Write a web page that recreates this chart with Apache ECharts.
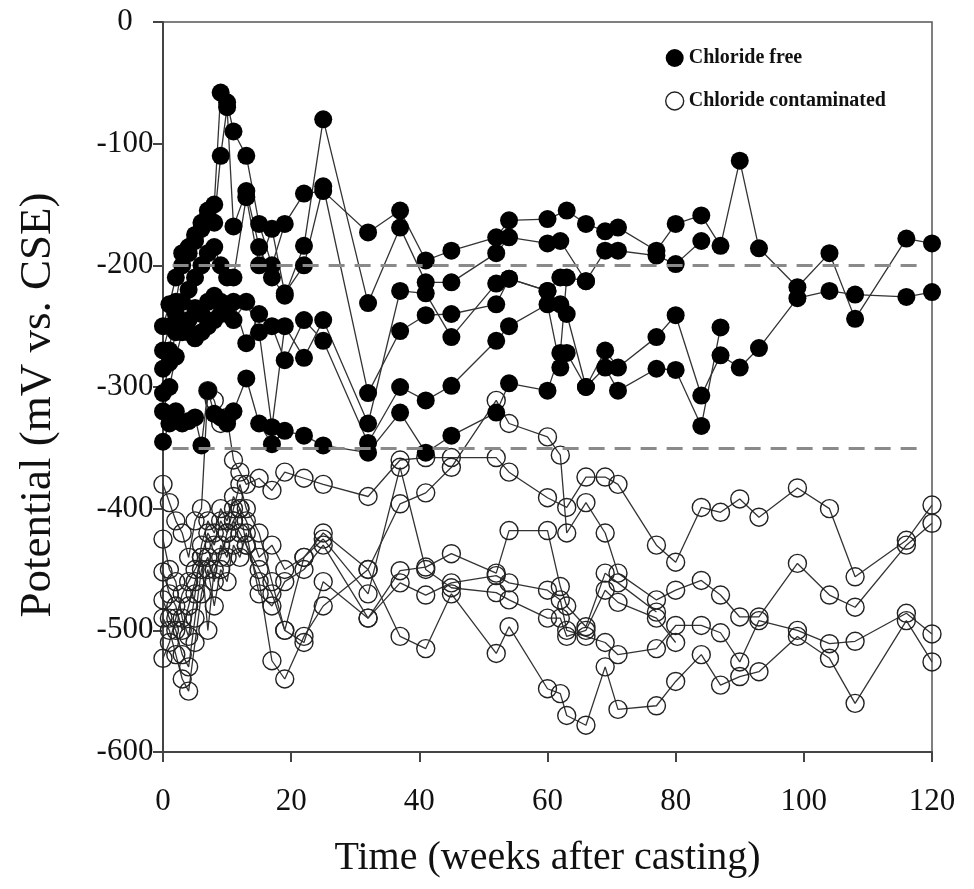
<!DOCTYPE html>
<html>
<head>
<meta charset="utf-8">
<script src="https://cdn.jsdelivr.net/npm/echarts@6/dist/echarts.min.js"></script>
<style>
html,body{margin:0;padding:0;background:#fff;}
#chart{width:974px;height:889px;}
</style>
</head>
<body>
<div id="chart"></div>
<script>
// ---- data ----
var weeksFree = [0,1,2,3,4,5,6,7,8,9,10,11,13,15,17,19,22,25,32,37,41,45,52,54,60,62,63,66,69,71,77,80,84,87,90,93,99,104,108,116,120];
var freeA = [-250,-232,-210,-190,-185,-175,-165,-155,-150,-58,-66,-90,-110,-166,-200,-166,-141,-139,-173,-155,-196,-188,-177,-163,-162,null,-155,-166,-172,-169,-188,-166,-159,-184,-114,-186,-218,-190,-244,-178,-182];
var freeB = [-285,-270,-230,-200,-190,-180,-170,-160,-165,-110,-70,-168,-139,-185,-210,-225,-184,-80,-231,-169,-214,-214,-190,-177,-182,-180,null,-213,-188,-188,-192,-199,-180,null,null,null,null,null,null,null,null];
var freeC = [-305,-280,-255,-230,-220,-210,-200,-190,-185,-200,-210,-210,-144,-200,-170,-223,-200,-135,-305,-254,-241,-240,-232,-211,-221,-232,-240,-300,-270,-284,-259,-241,-307,-274,-284,-268,-227,-221,-224,-226,-222];
var freeD = [-320,-300,-275,-255,-245,-235,-240,-230,-225,-230,-235,-230,-264,-240,-250,-278,-245,-262,-346,-300,-311,-299,-262,-250,-232,-284,-272,-300,-284,-303,-285,-286,-332,-251,null,null,null,null,null,null,null];
var freeE = [-345,-330,-320,-330,-328,-325,-348,-303,-322,-325,-330,-320,-293,-330,-347,-336,-340,-348,-354,-321,-354,-340,-321,-297,-303,-272,-210,-213,null,null,null,null,null,null,null,null,null,null,null,null,null];
var freeF = [-270,-250,-240,-250,-255,-260,-255,-250,-245,-240,-240,-245,-230,-255,-333,-250,-276,-245,-330,-221,-223,-259,-215,-211,-221,-210,null,null,null,null,null,null,null,null,null,null,null,null,null,null,null];

var weeksCont = [0,1,2,3,4,5,6,7,8,9,10,11,12,13,15,17,19,22,25,32,37,41,45,52,54,60,62,63,66,69,71,77,80,84,87,90,93,99,104,108,116,120];
var contA = [-380,-395,-410,-420,-440,-410,-400,-303,-311,-330,-325,-360,-370,-380,-375,-385,-370,-375,-380,-390,-360,-358,-358,-358,-370,-391,null,-399,-374,-374,-380,-430,-444,-399,-403,-392,-407,-383,-400,-456,-426,-397];
var contB = [-425,-450,-460,-490,-505,-470,-430,-410,-420,-400,-410,-390,-400,-410,-440,-430,-450,-440,-420,-450,-396,-387,-366,-311,-330,-341,-356,-420,-395,-420,-453,-475,-467,-459,-471,-489,-489,-445,-471,-481,-430,-412];
var contC = [-452,-470,-480,-500,-480,-460,-440,-420,-430,-410,-420,-400,-380,-400,-420,-460,-500,-510,-460,-490,-461,-471,-461,-455,-461,-467,-475,-500,-505,-510,-520,-515,-496,-496,-502,-526,-492,-500,-511,-509,-486,-503];
var contD = [-475,-490,-500,-520,-530,-490,-450,-440,-460,-430,-440,-410,-420,-430,-460,-525,-540,-505,-480,-450,-505,-515,-470,-519,-497,-548,-552,-570,-578,-530,-565,-562,-542,-520,-545,-538,-534,-505,-523,-560,-492,-526];
var contE = [-490,-500,-520,-540,-550,-510,-470,-450,-480,-450,-460,-430,-440,-420,-470,-480,-460,-450,-430,-490,-451,-448,-437,-453,-418,-418,-464,-480,-497,-453,-461,-485,null,null,null,null,null,null,null,null,null,null];
var contF = [-523,-510,-490,-470,-460,-450,-440,-500,-450,-440,-420,-410,-400,-430,-450,-470,-500,-440,-425,-470,-366,-450,-465,-469,-475,-490,-490,-505,-500,-467,-477,-490,-510,null,null,null,null,null,null,null,null,null];

var thresholds = [-200, -350];
var xTicks = {min: 0, max: 120, interval: 20};
var yTicks = {min: -600, max: 0, interval: 100};

// ---- build ----
function pairs(weeks, vals) {
  var out = [];
  for (var i = 0; i < weeks.length; i++) {
    if (vals[i] !== null && vals[i] !== undefined) out.push([weeks[i], vals[i]]);
  }
  return out;
}
var FONT = 'Liberation Serif, Times New Roman, serif';
var series = [];
var contSets = [contA, contB, contC, contD, contE, contF];
contSets.forEach(function (v) {
  series.push({
    name: 'Chloride contaminated', type: 'line', data: pairs(weeksCont, v),
    symbol: 'circle', symbolSize: 18, z: 2,
    itemStyle: {color: 'rgba(255,255,255,0)', borderColor: '#222', borderWidth: 1.4},
    lineStyle: {color: '#333', width: 1.3}
  });
});
var freeSets = [freeA, freeB, freeC, freeD, freeE, freeF];
freeSets.forEach(function (v) {
  series.push({
    name: 'Chloride free', type: 'line', data: pairs(weeksFree, v),
    symbol: 'circle', symbolSize: 18, z: 3,
    itemStyle: {color: '#000', borderColor: '#000', borderWidth: 0},
    lineStyle: {color: '#333', width: 1.3}
  });
});
series[0].markLine = {
  silent: true, symbol: ['none', 'none'], label: {show: false},
  lineStyle: {color: '#8a8a8a', width: 3, type: [16, 10]},
  data: thresholds.map(function (t) { return [{coord: [1.5, t]}, {coord: [118, t]}]; })
};

var chart = echarts.init(document.getElementById('chart'), null, {renderer: 'canvas'});
chart.setOption({
  animation: false,
  backgroundColor: '#fff',
  grid: {left: 163, right: 42, top: 22, bottom: 137, show: true, borderColor: '#555', borderWidth: 1.5},
  legend: {
    orient: 'vertical', left: 660, top: 43, itemWidth: 18, itemHeight: 18, itemGap: 23,
    textStyle: {fontFamily: FONT, fontWeight: 'bold', fontSize: 20, color: '#111'},
    data: [
      {name: 'Chloride free', icon: 'circle', itemStyle: {color: '#000', borderWidth: 0}},
      {name: 'Chloride contaminated', icon: 'circle', itemStyle: {color: '#fff', borderColor: '#222', borderWidth: 1.4}}
    ]
  },
  xAxis: {
    type: 'value', min: xTicks.min, max: xTicks.max, interval: xTicks.interval,
    name: 'Time (weeks after casting)', nameLocation: 'middle', nameGap: 86,
    nameTextStyle: {fontFamily: FONT, fontSize: 40, color: '#111'},
    axisLine: {onZero: false, lineStyle: {color: '#444', width: 2}},
    axisTick: {show: true, inside: false, length: 10, lineStyle: {color: '#444', width: 2}},
    axisLabel: {fontFamily: FONT, fontSize: 31, color: '#111', margin: 34},
    splitLine: {show: false}
  },
  yAxis: {
    type: 'value', min: yTicks.min, max: yTicks.max, interval: yTicks.interval,
    name: 'Potential (mV vs. CSE)', nameLocation: 'middle', nameGap: 102,
    nameTextStyle: {fontFamily: FONT, fontSize: 45, color: '#111', padding: [0, 36, 0, 0]},
    axisLine: {onZero: false, lineStyle: {color: '#444', width: 2}},
    axisTick: {show: true, inside: false, length: 10, lineStyle: {color: '#444', width: 2}},
    axisLabel: {fontFamily: FONT, fontSize: 31, color: '#111', margin: 38, align: 'center'},
    splitLine: {show: false}
  },
  series: series
});
</script>
</body>
</html>
